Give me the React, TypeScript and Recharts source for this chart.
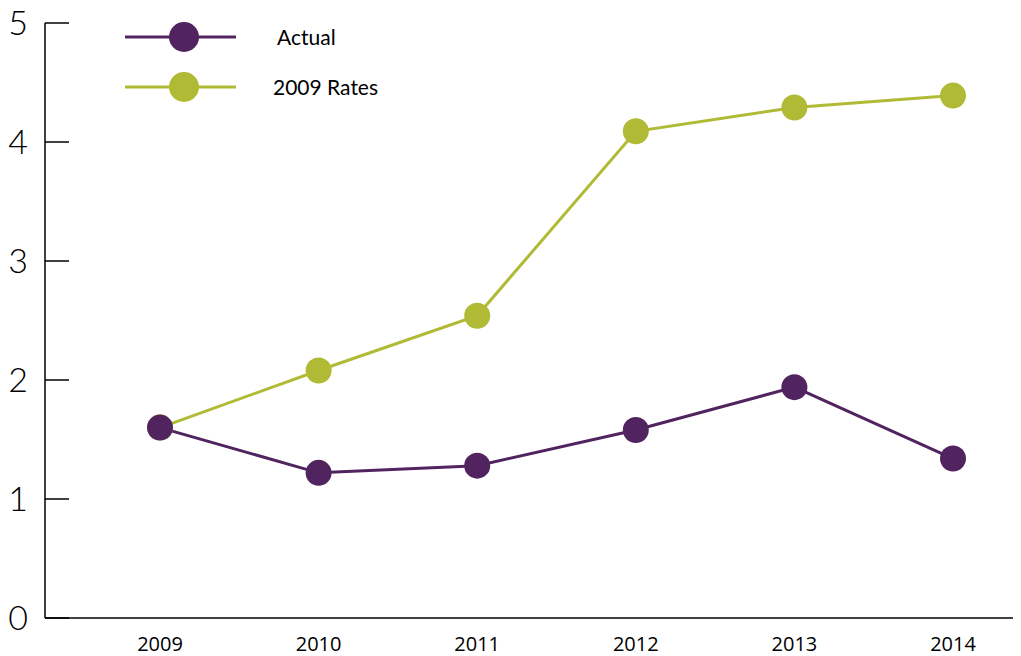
import React from 'react';
import { LineChart, Line, XAxis, YAxis } from 'recharts';

const YEARS = ['2009', '2010', '2011', '2012', '2013', '2014'];
const ACTUAL = [1.6, 1.22, 1.28, 1.58, 1.94, 1.34];
const RATES_2009 = [1.6, 2.08, 2.54, 4.09, 4.29, 4.39];
const Y_TICKS = [0, 1, 2, 3, 4, 5];

const PURPLE = '#51245F';
const GREEN = '#B0BA35';

const data = YEARS.map((year, i) => ({
    year,
    actual: ACTUAL[i],
    rates: RATES_2009[i],
}));

const YTick: React.FC<any> = ({ x, y, payload }) => (
    <g>
        <line x1={x} y1={y} x2={x + 24} y2={y} stroke="#000" strokeWidth={1.5} />
        <text
            x={x - 17}
            y={y}
            dy="0.36em"
            textAnchor="end"
            fontSize={34}
            fontFamily="Lato, sans-serif"
            fontWeight={300}
            fill="#000"
        >
            {payload.value}
        </text>
    </g>
);

// legend drawn as an overlay so it doesn't take room from the plot
const LegendBox: React.FC = () => {
    const items = [
        { name: 'Actual', color: PURPLE, textX: 277 },
        { name: '2009 Rates', color: GREEN, textX: 273 },
    ];
    return (
        <svg width={420} height={110} style={{ position: 'absolute', left: 0, top: 0 }}>
            {items.map((it, i) => {
                const cy = 37 + i * 50;
                return (
                    <g key={it.name}>
                        <line x1={125} y1={cy} x2={236} y2={cy} stroke={it.color} strokeWidth={3} />
                        <circle cx={184} cy={cy} r={15} fill={it.color} />
                        <text
                            x={it.textX}
                            y={cy}
                            dy="0.36em"
                            fontSize={21}
                            fontFamily="Lato, sans-serif"
                            fill="#000"
                        >
                            {it.name}
                        </text>
                    </g>
                );
            })}
        </svg>
    );
};

const App: React.FC = () => {
    return (
        <div style={{ position: 'relative', width: 1021, height: 656, margin: '-8px 0 0 -8px' }}>
            <LineChart
                width={1021}
                height={656}
                data={data}
                margin={{ top: 23, right: 0, bottom: 0, left: 8 }}
            >
                <XAxis
                    dataKey="year"
                    height={38}
                    padding={{ left: 115, right: 68 }}
                    tickSize={0}
                    tickMargin={19}
                    axisLine={{ stroke: '#000', strokeWidth: 1.5 }}
                    tick={{ fontSize: 20, fontFamily: '"Open Sans", sans-serif', fill: '#000' }}
                />
                <YAxis
                    width={37}
                    domain={[0, 5]}
                    ticks={Y_TICKS}
                    tickSize={0}
                    tickMargin={0}
                    tickLine={false}
                    axisLine={{ stroke: '#000', strokeWidth: 1.5 }}
                    tick={<YTick />}
                    interval={0}
                />
                <Line
                    dataKey="rates"
                    name="2009 Rates"
                    stroke={GREEN}
                    strokeWidth={3}
                    dot={{ r: 13, fill: GREEN, stroke: 'none' }}
                    activeDot={false}
                    isAnimationActive={false}
                />
                <Line
                    dataKey="actual"
                    name="Actual"
                    stroke={PURPLE}
                    strokeWidth={3}
                    dot={{ r: 13, fill: PURPLE, stroke: 'none' }}
                    activeDot={false}
                    isAnimationActive={false}
                />
            </LineChart>
            <LegendBox />
        </div>
    );
};

export default App;
